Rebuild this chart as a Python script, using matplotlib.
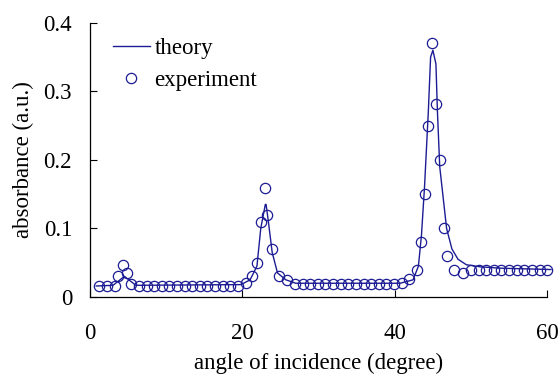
import matplotlib
matplotlib.use("Agg")
from matplotlib import pyplot as plt

plt.rcParams["font.family"] = ["Liberation Serif", "DejaVu Serif"]
plt.rcParams["font.size"] = 16.5

# measured points
exp_x = [1.2, 2.2, 3.2, 3.7, 4.3, 4.9, 5.4,
         6.4, 7.4, 8.4, 9.4, 10.4, 11.4, 12.4, 13.4, 14.4, 15.4, 16.4, 17.4, 18.4, 19.4,
         20.4, 21.3, 21.9, 22.4, 23.0, 23.2, 23.9, 24.8, 25.8, 26.9,
         27.9, 28.9, 29.9, 30.9, 31.9, 32.9, 33.9, 34.9, 35.9, 36.9, 37.9, 38.9, 39.9,
         40.9, 41.9, 42.9, 43.4, 43.9, 44.4, 44.9, 45.4, 45.9, 46.4, 46.9, 47.8, 48.9,
         50, 51, 52, 53, 54, 55, 56, 57, 58, 59, 60]
exp_y = [0.016, 0.016, 0.016, 0.030, 0.046, 0.035, 0.019,
         0.016, 0.016, 0.016, 0.016, 0.016, 0.016, 0.016, 0.016, 0.016, 0.016, 0.016, 0.016, 0.016, 0.016,
         0.020, 0.030, 0.049, 0.110, 0.159, 0.120, 0.070, 0.030, 0.025, 0.019,
         0.019, 0.019, 0.019, 0.019, 0.019, 0.019, 0.019, 0.019, 0.019, 0.019, 0.019, 0.019, 0.019,
         0.020, 0.026, 0.040, 0.080, 0.150, 0.250, 0.371, 0.281, 0.200, 0.100, 0.060, 0.040, 0.035,
         0.040, 0.040, 0.040, 0.040, 0.040, 0.040, 0.040, 0.040, 0.040, 0.040, 0.040]

# calculated curve
theory_x = [0.8, 3.0, 3.8, 4.5, 5.2, 6.0, 19.8, 21.0, 21.9, 22.4, 23.0, 23.1, 23.4, 23.9,
            24.6, 25.7, 27.0, 40.7, 42.4, 43.1, 43.5, 43.9, 44.4, 44.7, 45.0, 45.4, 45.6,
            45.9, 46.4, 46.8, 47.5, 48.3, 49.4, 51.2, 53.8, 60.5]
theory_y = [0.016, 0.017, 0.024, 0.030, 0.024, 0.017, 0.018, 0.025, 0.045, 0.100, 0.135,
            0.135, 0.110, 0.065, 0.035, 0.025, 0.020, 0.020, 0.025, 0.045, 0.090, 0.160,
            0.270, 0.350, 0.360, 0.340, 0.270, 0.190, 0.140, 0.100, 0.070, 0.055, 0.047,
            0.044, 0.042, 0.040]

color = "#1c1c94"

fig = plt.figure(figsize=(5.6, 3.74), dpi=100)
ax = fig.add_axes([0.161, 0.206, 0.816, 0.733])

ax.plot(theory_x, theory_y, color=color, linewidth=1.0, label="theory", clip_on=False)
ax.plot(exp_x, exp_y, linestyle="none", marker="o", markersize=7.4,
        markerfacecolor="none", markeredgecolor=color, markeredgewidth=0.9,
        label="experiment", clip_on=False)

ax.set_xlim(0, 60)
ax.set_ylim(0, 0.4)
ax.set_xticks([0, 20, 40, 60])
ax.set_xticklabels(["0", "20", "40", "60"])
ax.set_yticks([0, 0.1, 0.2, 0.3, 0.4])
ax.set_yticklabels(["0", "0.1", "0.2", "0.3", "0.4"])
ax.tick_params(direction="in", length=5, width=0.8, color="black")
ax.tick_params(axis="x", pad=19)
ax.tick_params(axis="y", pad=13)
ax.spines["top"].set_visible(False)
ax.spines["right"].set_visible(False)
ax.spines["left"].set_linewidth(0.9)
ax.spines["bottom"].set_linewidth(0.9)

ax.set_xlabel("angle of incidence (degree)", labelpad=6)
ax.set_ylabel("absorbance (a.u.)", labelpad=7)

ax.legend(loc="upper left", bbox_to_anchor=(0.02, 0.995), frameon=False,
          handlelength=1.6, handletextpad=0.2, labelspacing=0.5, borderaxespad=0.2)

plt.savefig("out.png", dpi=100)
